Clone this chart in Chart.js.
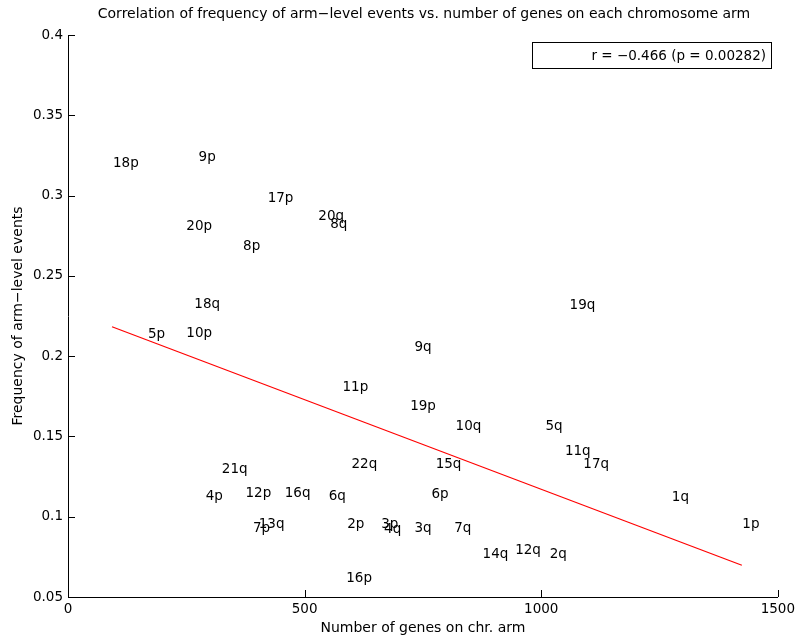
<!DOCTYPE html>
<html>
<head>
<meta charset="utf-8">
<script src="https://cdn.jsdelivr.net/npm/chart.js@4/dist/chart.umd.min.js"></script>
<style>
  html, body { margin: 0; padding: 0; background: #fff; }
  #wrap { width: 799px; height: 639px; }
</style>
</head>
<body>
<div id="wrap"><canvas id="armChart"></canvas></div>
<script>
// chromosome arms, gene counts, event frequencies
let arms = ["18p","9p","17p","20q","8q","20p","8p","18q","19q","5p","10p","9q","11p","19p","10q","5q",
            "11q","17q","15q","22q","21q","6p","1q","4p","12p","16q","6q","13q","7p","2p","3p","4q",
            "3q","7q","1p","14q","12q","2q","16p"];
let genes = [95,276,422,529,554,250,370,267,1060,169,250,732,580,723,819,1009,
             1050,1089,777,599,325,768,1276,291,375,458,551,403,391,590,662,668,
             732,816,1425,876,945,1018,588];
let freqs = [0.320,0.324,0.298,0.287,0.282,0.281,0.2685,0.2324,0.2314,0.2135,0.2142,0.2052,0.1803,0.1684,0.156,0.156,
             0.1404,0.1327,0.1327,0.1325,0.1294,0.114,0.112,0.1124,0.1145,0.1145,0.1124,0.095,0.0929,0.0952,0.0952,0.0922,
             0.0927,0.0927,0.0952,0.0767,0.0787,0.0765,0.0615];

// fitted line end points
let fitX = [93, 1424];
let fitY = [0.2183, 0.0698];

let xTicks = [0, 500, 1000, 1500];
let yTicks = [0.05, 0.1, 0.15, 0.2, 0.25, 0.3, 0.35, 0.4];

let rValue = "\u22120.466";
let pValue = "0.00282";

const FONT = "'DejaVu Sans', Verdana, sans-serif";

let points = genes.map((g, i) => ({ x: g, y: freqs[i] }));
let fitLine = fitX.map((x, i) => ({ x: x, y: fitY[i] }));

const annotate = {
    id: "annotate",
    afterDatasetsDraw(chart) {
        const ctx = chart.ctx;
        const xs = chart.scales.x, ys = chart.scales.y;
        const area = chart.chartArea;

        // arm names at their points
        ctx.save();
        ctx.fillStyle = "#000";
        ctx.font = "13.5px " + FONT;
        ctx.textAlign = "left";
        ctx.textBaseline = "middle";
        points.forEach((p, i) => {
            ctx.fillText(arms[i], xs.getPixelForValue(p.x), ys.getPixelForValue(p.y));
        });
        ctx.restore();

        // inward ticks
        ctx.save();
        ctx.strokeStyle = "#000";
        ctx.lineWidth = 1;
        ctx.beginPath();
        xTicks.forEach(v => {
            let px = Math.round(xs.getPixelForValue(v)) + 0.5;
            ctx.moveTo(px, area.bottom);
            ctx.lineTo(px, area.bottom - 7);
        });
        yTicks.forEach(v => {
            let py = Math.round(ys.getPixelForValue(v)) + 0.5;
            ctx.moveTo(area.left, py);
            ctx.lineTo(area.left + 7, py);
        });
        ctx.stroke();
        ctx.restore();

        // correlation box
        ctx.save();
        ctx.fillStyle = "#fff";
        ctx.fillRect(532.5, 42.5, 239, 26);
        ctx.strokeStyle = "#000";
        ctx.lineWidth = 1;
        ctx.strokeRect(532.5, 42.5, 239, 26);
        ctx.fillStyle = "#000";
        ctx.font = "13.5px " + FONT;
        ctx.textAlign = "right";
        ctx.textBaseline = "middle";
        ctx.fillText("r = " + rValue + " (p = " + pValue + ")", 766, 56);
        ctx.restore();

        // title
        ctx.save();
        ctx.fillStyle = "#000";
        ctx.font = "14px " + FONT;
        ctx.textAlign = "center";
        ctx.textBaseline = "middle";
        ctx.fillText("Correlation of frequency of arm\u2212level events vs. number of genes on each chromosome arm", 424, 14);
        ctx.restore();
    }
};

let ctx = document.getElementById("armChart").getContext("2d");

new Chart(ctx, {
    type: "scatter",
    data: {
        datasets: [{
            label: "Arms",
            data: points,
            pointRadius: 0,
            pointHoverRadius: 0,
            showLine: false
        }, {
            label: "Fit",
            type: "line",
            data: fitLine,
            borderColor: "#ff0000",
            borderWidth: 1.2,
            pointRadius: 0,
            fill: false,
            tension: 0
        }]
    },
    options: {
        responsive: true,
        maintainAspectRatio: false,
        animation: false,
        events: [],
        layout: {
            padding: { top: 35, right: 20, left: 0, bottom: 0 }
        },
        plugins: {
            legend: { display: false },
            tooltip: { enabled: false }
        },
        scales: {
            x: {
                type: "linear",
                min: 0,
                max: 1500,
                afterBuildTicks: s => { s.ticks = xTicks.map(v => ({ value: v })); },
                afterFit: s => { s.height = 42; },
                grid: { display: false, drawTicks: false },
                border: { display: true, color: "#000", width: 1 },
                ticks: {
                    color: "#000",
                    padding: 4,
                    maxRotation: 0,
                    font: { family: FONT, size: 13.5 },
                    callback: v => String(v)
                },
                title: {
                    display: true,
                    text: "Number of genes on chr. arm",
                    color: "#000",
                    padding: { top: 0, bottom: 2 },
                    font: { family: FONT, size: 14 }
                }
            },
            y: {
                type: "linear",
                min: 0.05,
                max: 0.4,
                afterBuildTicks: s => { s.ticks = yTicks.map(v => ({ value: v })); },
                afterFit: s => { s.width = 68; },
                grid: { display: false, drawTicks: false },
                border: { display: true, color: "#000", width: 1 },
                ticks: {
                    color: "#000",
                    padding: 5,
                    font: { family: FONT, size: 13.5 },
                    callback: v => String(Math.round(v * 100) / 100)
                },
                title: {
                    display: true,
                    text: "Frequency of arm\u2212level events",
                    color: "#000",
                    padding: { top: 10, bottom: 0 },
                    font: { family: FONT, size: 14 }
                }
            }
        }
    },
    plugins: [annotate]
});
</script>
</body>
</html>
